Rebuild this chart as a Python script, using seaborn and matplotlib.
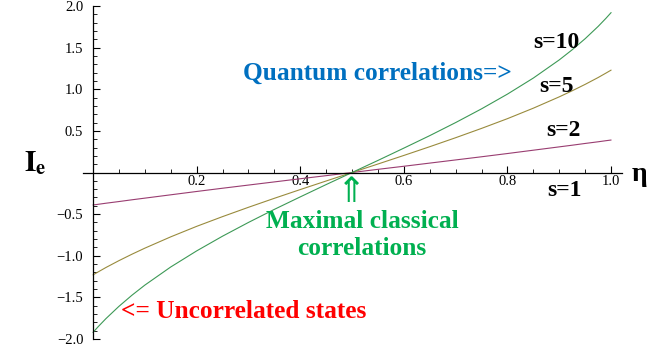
import numpy as np
import pandas as pd
import matplotlib
matplotlib.use("Agg")
import matplotlib.pyplot as plt
import seaborn as sns

# ── données ─────────────────────────────────────────────────────────────
eta = [0.0, 0.01, 0.025, 0.05, 0.075, 0.1, 0.15, 0.2, 0.25, 0.3, 0.35, 0.4, 0.45, 0.5,
       0.55, 0.6, 0.65, 0.7, 0.75, 0.8, 0.85, 0.9, 0.925, 0.95, 0.975, 0.99, 1.0]

ie_s2 = [-0.390, -0.382, -0.369, -0.349, -0.328, -0.308, -0.268, -0.228, -0.189, -0.151,
         -0.113, -0.075, -0.038, 0.0, 0.038, 0.075, 0.113, 0.151, 0.189, 0.228, 0.268,
         0.308, 0.328, 0.349, 0.369, 0.382, 0.390]
ie_s5 = [-1.230, -1.194, -1.141, -1.059, -0.982, -0.909, -0.773, -0.647, -0.530, -0.418,
         -0.310, -0.205, -0.102, 0.0, 0.102, 0.205, 0.310, 0.418, 0.530, 0.647, 0.773,
         0.909, 0.982, 1.059, 1.141, 1.194, 1.230]
ie_s10 = [-1.921, -1.852, -1.755, -1.608, -1.475, -1.353, -1.135, -0.942, -0.765, -0.600,
          -0.443, -0.293, -0.145, 0.0, 0.145, 0.293, 0.443, 0.600, 0.765, 0.942, 1.135,
          1.353, 1.475, 1.608, 1.755, 1.852, 1.921]

x_ticks = [0.2, 0.4, 0.6, 0.8, 1.0]
x_labels = ["0.2", "0.4", "0.6", "0.8", "1.0"]
y_ticks = [-2.0, -1.5, -1.0, -0.5, 0.5, 1.0, 1.5, 2.0]
y_labels = ["\u22122.0", "\u22121.5", "\u22121.0", "\u22120.5", "0.5", "1.0", "1.5", "2.0"]

couleurs = {"s=2": "#993d71", "s=5": "#998b3d", "s=10": "#3d9956"}

df = pd.DataFrame({
    "eta": eta * 3,
    "Ie": ie_s2 + ie_s5 + ie_s10,
    "s": ["s=2"] * len(eta) + ["s=5"] * len(eta) + ["s=10"] * len(eta),
})

sns.set_style("white")
plt.rcParams["font.family"] = ["Liberation Serif", "DejaVu Serif"]
plt.rcParams["mathtext.fontset"] = "stix"
plt.rcParams["text.color"] = "black"

fig = plt.figure(figsize=(6.48, 3.54), dpi=100)
ax = fig.add_axes([83 / 648, 15 / 354, 539 / 648, 333 / 354])

sns.lineplot(data=df, x="eta", y="Ie", hue="s", palette=couleurs,
             linewidth=0.8, legend=False, ax=ax, sort=False)

ax.set_xlim(-0.0193, 1.021)
ax.set_ylim(-2.0, 2.0)

# axes à la Mathematica : croisés à l'origine
ax.spines["top"].set_visible(False)
ax.spines["right"].set_visible(False)
ax.spines["left"].set_position(("data", 0))
ax.spines["bottom"].set_position(("data", 0))
ax.spines["left"].set_bounds(-2.0, 2.0)
for sp in ("left", "bottom"):
    ax.spines[sp].set_linewidth(0.9)
    ax.spines[sp].set_color("black")

ax.set_xticks(x_ticks)
ax.set_xticklabels(x_labels)
ax.set_xticks(np.arange(0.05, 1.0001, 0.05), minor=True)
ax.set_yticks(y_ticks)
ax.set_yticklabels(y_labels)
ax.set_yticks(np.arange(-2.0, 2.0001, 0.1), minor=True)
ax.tick_params(axis="both", which="both", bottom=True, left=True, colors="black",
               labelcolor="black")
ax.tick_params(axis="x", which="major", direction="in", length=5, width=0.8, pad=2, labelsize=10.5)
ax.tick_params(axis="x", which="minor", direction="in", length=3, width=0.6)
ax.tick_params(axis="y", which="major", direction="in", length=5, width=0.8, pad=7, labelsize=10.5)
ax.tick_params(axis="y", which="minor", direction="in", length=3, width=0.6)
ax.set_xlabel("")
ax.set_ylabel("")

# libellés
fig.text(35 / 648, 1 - 163 / 354, r"$\mathbf{I}_{\mathbf{e}}$", fontsize=21,
         ha="center", va="center")
fig.text(639 / 648, 1 - 175 / 354, "\u03b7", fontsize=20, fontweight="bold",
         ha="center", va="center")

gras = dict(fontweight="bold", ha="center", va="center")
fig.text(556 / 648, 1 - 42 / 354, "s=10", fontsize=17, **gras)
fig.text(556 / 648, 1 - 86 / 354, "s=5", fontsize=17, **gras)
fig.text(563 / 648, 1 - 130 / 354, "s=2", fontsize=17, **gras)
fig.text(565 / 648, 1 - 190 / 354, "s=1", fontsize=17, **gras)

fig.text(377 / 648, 1 - 73 / 354, "Quantum correlations=>", fontsize=18.3,
         color="#0070c0", **gras)
fig.text(362 / 648, 1 - 235 / 354, "Maximal classical\ncorrelations", fontsize=18.3,
         color="#00b050", linespacing=1.25, **gras)
fig.text(244 / 648, 1 - 311 / 354, "<= Uncorrelated states", fontsize=18.3,
         color="#ff0000", **gras)
fig.text(351 / 648, 1 - 192 / 354, "\u21d1", fontsize=25, color="#00b050",
         family=["DejaVu Sans"], ha="center", va="center")

plt.savefig("out.png", dpi=100)
